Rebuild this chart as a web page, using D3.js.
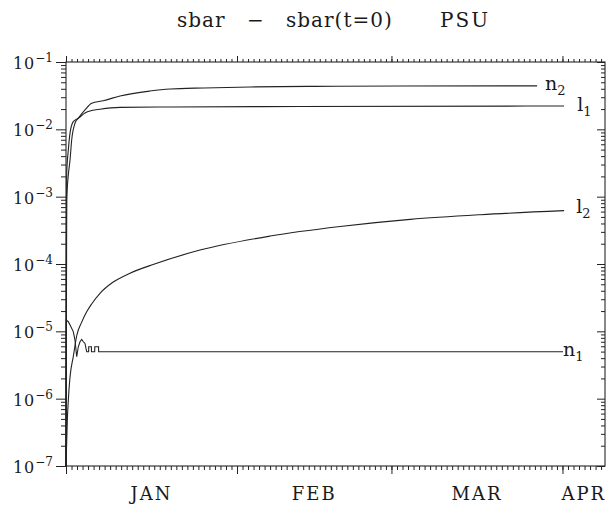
<!DOCTYPE html>
<html>
<head>
<meta charset="utf-8">
<script src="https://cdn.jsdelivr.net/npm/d3@7"></script>
<style>
  body { margin: 0; background: #fff; }
  text { font-family: "DejaVu Serif", "Liberation Serif", serif; fill: #1a1a1a; }
</style>
</head>
<body>
<div id="chart"><svg width="610" height="505"></svg></div>
<script>
// days since 1 Jan, value of sbar - sbar(t=0)
var n2 = [[0, 1e-7], [0.13, 8.9e-4], [0.42, 2.1e-3], [0.73, 3.5e-3], [1.03, 6.95e-3], [1.63, 0.0123],
  [2.23, 0.0146], [3.44, 0.0194], [4.66, 0.0244], [6.76, 0.0266], [9.8, 0.0313], [15.2, 0.037],
  [18.9, 0.0397], [25, 0.0412], [33.4, 0.0426], [45, 0.0435], [60.5, 0.044], [85.4, 0.0442]];
var l1 = [[0, 1e-7], [0.05, 1e-4], [0.13, 2.25e-3], [0.42, 4.93e-3], [0.73, 8.8e-3], [1.32, 0.013],
  [2.23, 0.0146], [3.44, 0.0175], [4.66, 0.019], [6.16, 0.0199], [9.8, 0.0212], [18.9, 0.0215],
  [42.4, 0.0218], [90.3, 0.0222]];
var l2 = [[0, 1e-7], [0.24, 4.8e-7], [0.42, 9.5e-7], [0.73, 2.1e-6], [1.32, 4.2e-6], [1.94, 8.6e-6],
  [2.85, 1.37e-5], [3.75, 1.95e-5], [4.65, 2.55e-5], [6.2, 3.7e-5], [8.43, 5.3e-5], [11.6, 7.3e-5],
  [16.06, 1.0e-4], [24.3, 1.61e-4], [37, 2.6e-4], [49.7, 3.6e-4], [62.4, 4.6e-4], [75.1, 5.4e-4],
  [90.3, 6.2e-4]];
var n1 = [[0, 1e-7], [0.02, 1e-6], [0.05, 1.47e-5], [0.42, 1.39e-5], [0.73, 1.24e-5], [1.32, 9.9e-6],
  [1.63, 7.4e-6], [1.94, 4.2e-6], [2.23, 5.9e-6], [2.54, 7.0e-6], [2.85, 7.6e-6], [3.14, 7.0e-6],
  [3.44, 6.6e-6], [3.75, 4.97e-6], [4.1, 4.97e-6], [4.12, 5.9e-6], [4.6, 5.9e-6], [4.62, 4.97e-6],
  [5.2, 4.97e-6], [5.22, 5.9e-6], [5.9, 5.9e-6], [5.92, 4.97e-6], [90.1, 4.97e-6]];

var series = [
  {name: "n", sub: "2", data: n2, smooth: true, dx: 8, dy: 4},
  {name: "l", sub: "1", data: l1, smooth: true, dx: 13, dy: 5},
  {name: "l", sub: "2", data: l2, smooth: true, dx: 12, dy: 2},
  {name: "n", sub: "1", data: n1, smooth: false, dx: 0, dy: 4}
];
var months = ["JAN", "FEB", "MAR", "APR"];
var decades = [-7, -6, -5, -4, -3, -2, -1];

var t0 = Date.UTC(1990, 0, 1);
function day(d) { return new Date(t0 + d * 864e5); }

var svg = d3.select("#chart").select("svg");
var plotLeft = 66, plotRight = 605, plotTop = 62, plotBottom = 466;

var x = d3.scaleUtc().domain([day(0), new Date(Date.UTC(1990, 3, 8, 17))]).range([plotLeft, plotRight]);
var y = d3.scaleLog().domain([1e-7, 1e-1]).range([plotBottom, plotTop]);

// title
svg.append("text").text("sbar \u2212 sbar(t=0)").attr("x", 177).attr("y", 27)
  .style("font-size", "20px").style("word-spacing", "14px").style("letter-spacing", "1px");
svg.append("text").text("PSU").attr("x", 440).attr("y", 27)
  .style("font-size", "20px").style("letter-spacing", "2px");

// frame
svg.append("rect").attr("x", plotLeft).attr("y", plotTop)
  .attr("width", plotRight - plotLeft).attr("height", plotBottom - plotTop)
  .style("fill", "none").style("stroke", "#111").style("stroke-width", 1);

// y ticks
var minor = [];
decades.forEach(function (k) {
  if (k < -1) for (var m = 2; m <= 9; m++) minor.push(m * Math.pow(10, k));
});
var major = decades.map(function (k) { return Math.pow(10, k); });

function yAxis(xpos, vals, size) {
  var g = svg.append("g").attr("transform", "translate(" + xpos + ",0)")
    .call(d3.axisLeft(y).tickValues(vals).tickSize(size).tickSizeOuter(0).tickFormat(""));
  g.select(".domain").remove();
  g.selectAll("line").style("stroke", "#222");
}
yAxis(plotLeft, minor, 5);
yAxis(plotLeft, major, 10);
yAxis(plotRight, minor, 4);
yAxis(plotRight, major, 8);

// y labels
decades.forEach(function (k) {
  var t = svg.append("text").attr("x", 53).attr("y", y(Math.pow(10, k)) + 7)
    .attr("text-anchor", "end").style("font-size", "16px");
  t.append("tspan").text("10").style("letter-spacing", "1px");
  t.append("tspan").text("\u2212" + (-k)).attr("dy", -7).style("font-size", "12px");
});

// x ticks
function xAxis(gen, ypos, interval, size) {
  var g = svg.append("g").attr("transform", "translate(0," + ypos + ")")
    .call(gen(x).ticks(interval).tickSize(size).tickSizeOuter(0).tickFormat(""));
  g.select(".domain").remove();
  g.selectAll("line").style("stroke", "#222");
}
xAxis(d3.axisBottom, plotBottom, d3.utcDay.every(1), 4);
xAxis(d3.axisBottom, plotBottom, d3.utcMonth.every(1), 8);
xAxis(d3.axisTop, plotTop, d3.utcDay.every(1), 3);
xAxis(d3.axisTop, plotTop, d3.utcMonth.every(1), 6);

// month labels centred in each month
months.forEach(function (m, i) {
  var a = Math.max(x(new Date(Date.UTC(1990, i, 1))), plotLeft);
  var b = Math.min(x(new Date(Date.UTC(1990, i + 1, 1))), plotRight);
  svg.append("text").text(m).attr("x", (a + b) / 2).attr("y", 500)
    .attr("text-anchor", "middle").style("font-size", "18px").style("letter-spacing", "2px");
});

// curves
series.forEach(function (s) {
  var line = d3.line()
    .x(function (d) { return x(day(d[0])); })
    .y(function (d) { return y(d[1]); })
    .curve(s.smooth ? d3.curveMonotoneX : d3.curveLinear);
  svg.append("path").datum(s.data).attr("d", line)
    .style("fill", "none").style("stroke", "#222").style("stroke-width", 1.1);

  var last = s.data[s.data.length - 1];
  var lab = svg.append("text").attr("x", x(day(last[0])) + s.dx)
    .attr("y", y(last[1]) + s.dy).style("font-size", "19px");
  lab.append("tspan").text(s.name);
  lab.append("tspan").text(s.sub).attr("dy", 5).style("font-size", "13px");
});
</script>
</body>
</html>
